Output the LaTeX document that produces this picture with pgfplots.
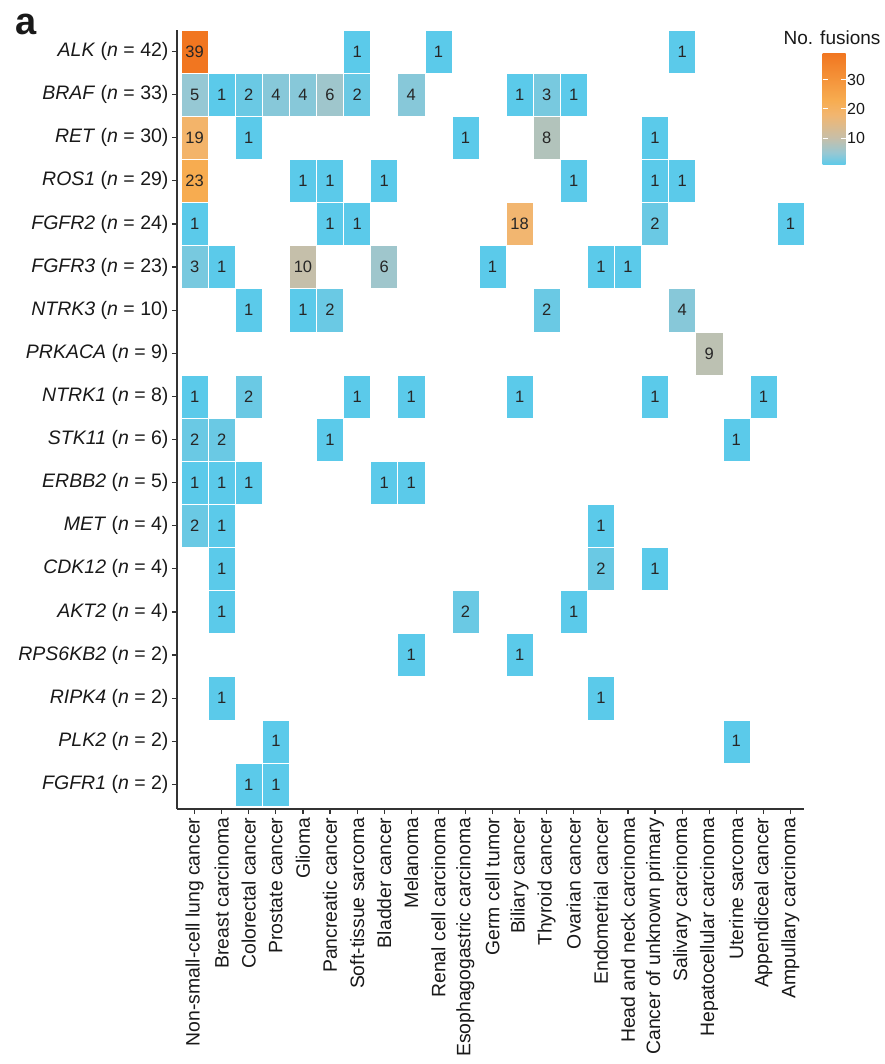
\documentclass[border=0pt]{standalone}
\usepackage{pgfplots}
\usepackage{pgfplotstable}
\pgfplotsset{compat=1.18}
\usepackage{fontspec}
\setmainfont{Liberation Sans}

\pgfplotsset{colormap={fus}{rgb255(0cm)=(91,202,234); rgb255(4cm)=(150,200,212); rgb255(9cm)=(197,191,170); rgb255(17cm)=(242,182,112); rgb255(22cm)=(247,172,80); rgb255(38cm)=(241,118,32)}}

\pgfdeclareplotmark{cell}{%
  \pgfpathrectangle{\pgfpoint{-13.54pt}{-21.55pt}}{\pgfpoint{27.08pt}{43.1pt}}%
  \pgfusepathqfillstroke}

\newcommand{\g}[2]{\textit{#1} (\textit{n} = #2)}

\pgfplotstableread{
x y v
0 17 39
6 17 1
9 17 1
18 17 1
0 16 5
1 16 1
2 16 2
3 16 4
4 16 4
5 16 6
6 16 2
8 16 4
12 16 1
13 16 3
14 16 1
0 15 19
2 15 1
10 15 1
13 15 8
17 15 1
0 14 23
4 14 1
5 14 1
7 14 1
14 14 1
17 14 1
18 14 1
0 13 1
5 13 1
6 13 1
12 13 18
17 13 2
22 13 1
0 12 3
1 12 1
4 12 10
7 12 6
11 12 1
15 12 1
16 12 1
2 11 1
4 11 1
5 11 2
13 11 2
18 11 4
19 10 9
0 9 1
2 9 2
6 9 1
8 9 1
12 9 1
17 9 1
21 9 1
0 8 2
1 8 2
5 8 1
20 8 1
0 7 1
1 7 1
2 7 1
7 7 1
8 7 1
0 6 2
1 6 1
15 6 1
1 5 1
15 5 2
17 5 1
1 4 1
10 4 2
14 4 1
8 3 1
12 3 1
1 2 1
15 2 1
3 1 1
20 1 1
2 0 1
3 0 1
}\cells

\begin{document}
\begin{tikzpicture}
\path[use as bounding box] (-177pt,-255pt) rectangle (707pt,809pt);
\begin{axis}[
  at={(0pt,0pt)}, anchor=south west,
  scale only axis, width=627pt, height=779pt,
  xmin=-0.65, xmax=22.5, ymin=-0.57, ymax=17.5,
  axis x line*=bottom, axis y line*=left,
  axis line style={draw=black!80, line width=1.2pt, -},
  tick style={draw=black!80, line width=1.2pt},
  major tick length=5pt, tick align=outside,
  xtick={0,...,22}, ytick={0,...,17},
  xticklabels={Non-small-cell lung cancer, Breast carcinoma, Colorectal cancer, Prostate cancer, Glioma, Pancreatic cancer, Soft-tissue sarcoma, Bladder cancer, Melanoma, Renal cell carcinoma, Esophagogastric carcinoma, Germ cell tumor, Biliary cancer, Thyroid cancer, Ovarian cancer, Endometrial cancer, Head and neck carcinoma, Cancer of unknown primary, Salivary carcinoma, Hepatocellular carcinoma, Uterine sarcoma, Appendiceal cancer, Ampullary carcinoma},
  yticklabels={\g{FGFR1}{2}, \g{PLK2}{2}, \g{RIPK4}{2}, \g{RPS6KB2}{2}, \g{AKT2}{4}, \g{CDK12}{4}, \g{MET}{4}, \g{ERBB2}{5}, \g{STK11}{6}, \g{NTRK1}{8}, \g{PRKACA}{9}, \g{NTRK3}{10}, \g{FGFR3}{23}, \g{FGFR2}{24}, \g{ROS1}{29}, \g{RET}{30}, \g{BRAF}{33}, \g{ALK}{42}},
  xticklabel style={rotate=90, anchor=east, font=\fontsize{19.4}{20}\selectfont, text=black!90},
  yticklabel style={font=\fontsize{19.5}{20}\selectfont, text=black!90},
  colormap name=fus,
  point meta min=1, point meta max=39,
  colorbar,
  colorbar/width=23pt,
  colorbar style={
    at={(parent axis.north east)}, anchor=north west, xshift=10pt, yshift=-23pt,
    scale only axis, width=23pt, height=112pt,
    ytick={10,20,30},
    axis line style={draw=none},
    tick align=inside,
    ytick pos=both,
    yticklabel pos=right,
    major tick length=5pt,
    tick style={draw=white, line width=1pt},
    yticklabel style={font=\fontsize{16}{17}\selectfont, inner sep=1.5pt, text=black!90, /pgf/number format/assume math mode=true},
    title={No. fusions},
    title style={font=\fontsize{19}{20}\selectfont, text=black!90, inner sep=2pt, xshift=-2pt},
  },
]
\addplot[scatter, only marks, mark=cell, point meta=explicit,
  scatter/use mapped color={draw=white, fill=mapped color},
  mark options={line width=0.5pt},
] table[x=x, y=y, meta=v] {\cells};
\addplot[draw=none, mark=none, point meta=explicit,
  nodes near coords={\pgfmathprintnumber[fixed,precision=0]{\pgfplotspointmeta}},
  every node near coord/.append style={anchor=center, font=\fontsize{16.5}{17}\selectfont, text=black!85, /pgf/number format/assume math mode=true},
] table[x=x, y=y, meta=v] {\cells};
\end{axis}
\node[anchor=base west, font=\fontsize{38}{40}\selectfont\bfseries, text=black!90] at (-165pt,774pt) {a};
\end{tikzpicture}
\end{document}
